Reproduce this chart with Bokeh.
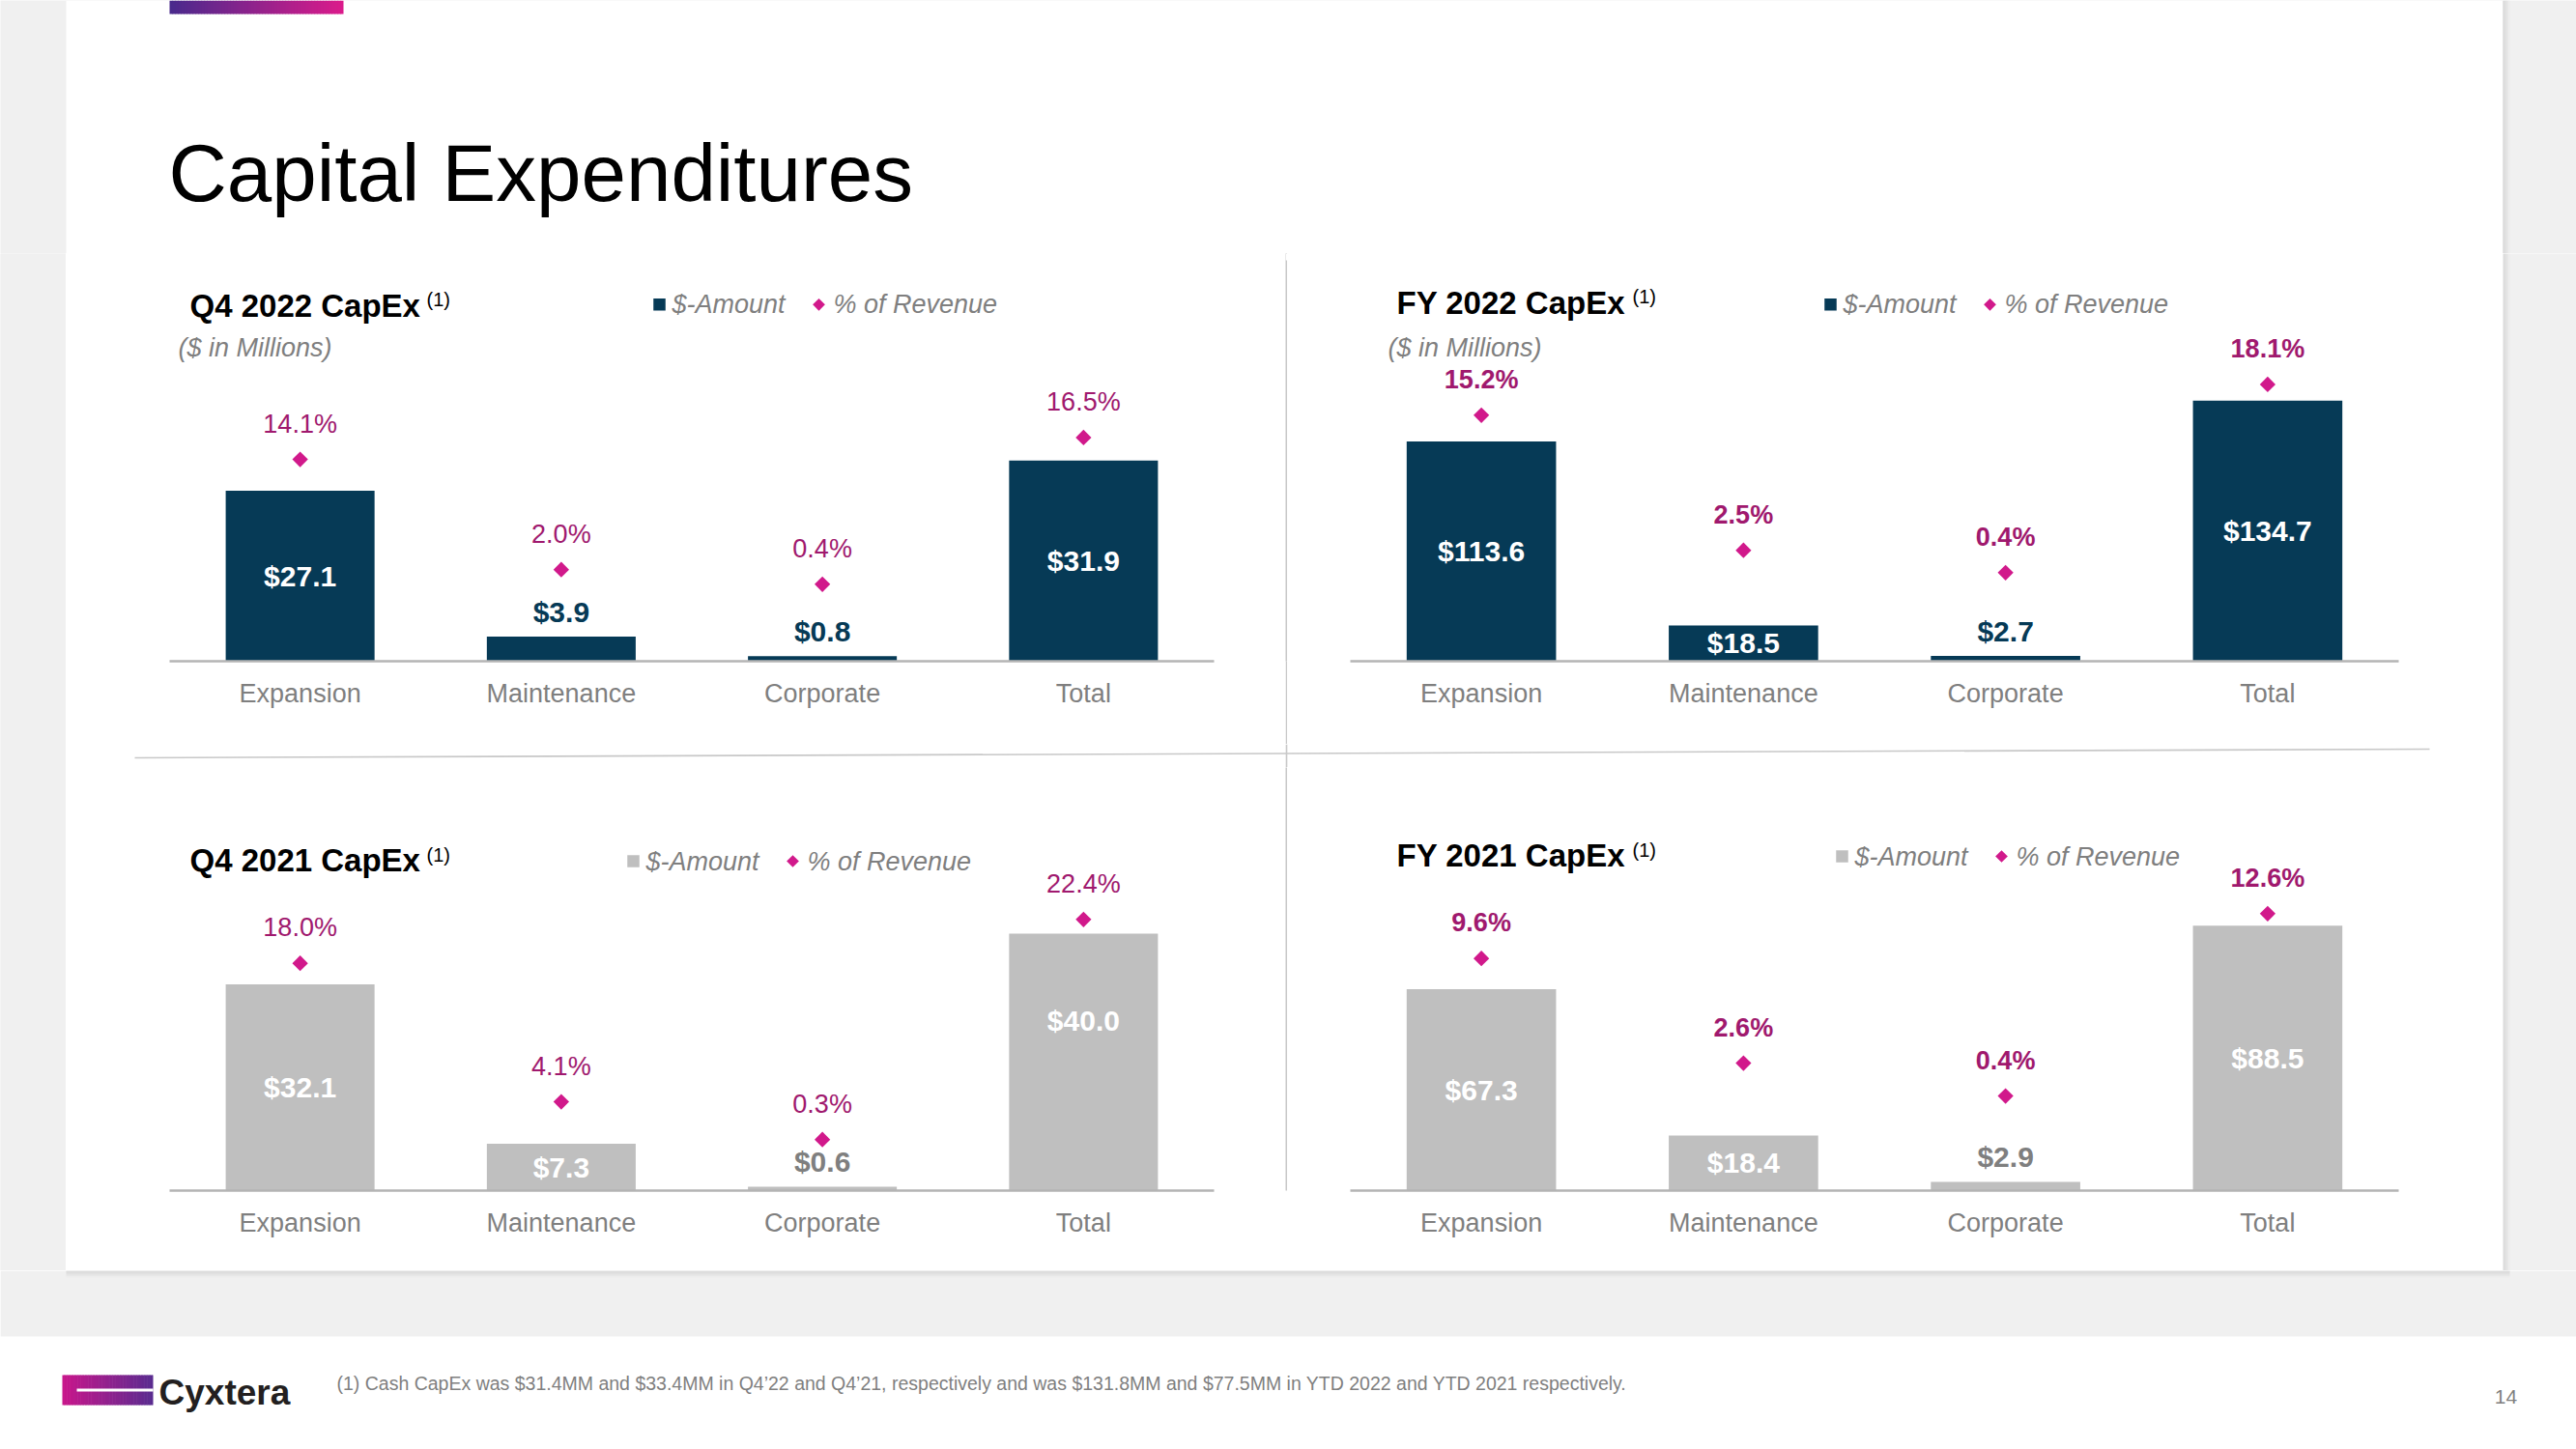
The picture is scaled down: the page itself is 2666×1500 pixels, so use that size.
import math
from bokeh.plotting import figure
from bokeh.models import Range1d, ColumnDataSource, FixedTicker
from bokeh.layouts import row, column
from bokeh.embed import file_html
from bokeh.resources import INLINE
from bokeh.core.properties import value

# ---------------- data ----------------
categories = ["Expansion", "Maintenance", "Corporate", "Total"]

q4_2022_amount = [27.1, 3.9, 0.8, 31.9]
q4_2022_pct = [14.1, 2.0, 0.4, 16.5]
fy_2022_amount = [113.6, 18.5, 2.7, 134.7]
fy_2022_pct = [15.2, 2.5, 0.4, 18.1]
q4_2021_amount = [32.1, 7.3, 0.6, 40.0]
q4_2021_pct = [18.0, 4.1, 0.3, 22.4]
fy_2021_amount = [67.3, 18.4, 2.9, 88.5]
fy_2021_pct = [9.6, 2.6, 0.4, 12.6]

panel_titles = ["Q4 2022 CapEx", "FY 2022 CapEx", "Q4 2021 CapEx", "FY 2021 CapEx"]
footnote_mark = "(1)"
unit_note = "($ in Millions)"
legend_labels = ["$-Amount", "% of Revenue"]
slide_title = "Capital Expenditures"
footnote = ("(1) Cash CapEx was $31.4MM and $33.4MM in Q4\u201922 and Q4\u201921, respectively "
            "and was $131.8MM and $77.5MM in YTD 2022 and YTD 2021 respectively.")
page_number = "14"
company = "Cyxtera"

# ---------------- style ----------------
FONT = value("Liberation Sans")
BG = "#f0f0f0"
NAVY = "#063a56"
GRAYBAR = "#bfbfbf"
MAGENTA = "#d1198b"
PCT_TXT = "#a0196e"
GRAYTXT = "#7f7f7f"
DIVIDER = "#c8c8c8"
DIAMOND_ANGLE = math.pi / 4


def lerp_color(c1, c2, t):
    a = [int(c1[i:i + 2], 16) for i in (1, 3, 5)]
    b = [int(c2[i:i + 2], 16) for i in (1, 3, 5)]
    return "#%02x%02x%02x" % tuple(round(a[k] + (b[k] - a[k]) * t) for k in range(3))


def canvas(x0, x1, y0, y1, bg="white", border=None, mb_bottom=0):
    p = figure(width=x1 - x0, height=y1 - y0,
               x_range=Range1d(x0, x1), y_range=Range1d(y1 - mb_bottom, y0),
               x_axis_location=None, y_axis_location=None,
               toolbar_location=None, output_backend="svg",
               min_border=0, outline_line_color=None,
               background_fill_color=bg, border_fill_color=border or bg)
    p.min_border_bottom = mb_bottom
    p.grid.visible = False
    return p


def hgradient(p, x0, x1, y0, y1, c0, c1, n=60, **kw):
    L, R, C = [], [], []
    for i in range(n):
        L.append(x0 + (x1 - x0) * i / n)
        R.append(min(x1, x0 + (x1 - x0) * (i + 1) / n + 0.6))
        C.append(lerp_color(c0, c1, i / (n - 1)))
    p.quad(left=L, right=R, top=[y0] * n, bottom=[y1] * n, fill_color=C, line_color=None, **kw)


def vshadow(p, x, y0, y1, n=7):
    for i in range(n):
        p.quad(left=[x + i], right=[x + i + 1], top=[y0], bottom=[y1],
               fill_color=lerp_color("#d0d0d0", BG, i / n), line_color=None)


def hshadow(p, y, x0, x1, n=7):
    for i in range(n):
        p.quad(left=[x0], right=[x1], top=[y + i], bottom=[y + i + 1],
               fill_color=lerp_color("#d0d0d0", BG, i / n), line_color=None)


def txt(p, x, y, s, size, color, align="left", style="normal", **kw):
    p.text(x=[x], y=[y], text=[s], text_font=FONT, text_font_size=value(size),
           text_color=color, text_align=align, text_baseline="middle",
           text_font_style=value(style), **kw)


# ---------------- header ----------------
header = canvas(0, 2666, 0, 262, bg=BG)
header.quad(left=[68], right=[2590], top=[0], bottom=[262], fill_color="white", line_color=None)
vshadow(header, 2590, 0, 262)
hgradient(header, 175, 355, 0, 14, "#4a2a8c", "#da1b8b")
txt(header, 174, 178, slide_title, "83.5px", "#000000")

# ---------------- side strips ----------------
left_strip = canvas(0, 68, 262, 1315, bg=BG)
left_strip.quad(left=[0], right=[68], top=[262], bottom=[1315], fill_color=BG, line_color=None)
right_strip = canvas(2590, 2666, 262, 1315, bg=BG)
vshadow(right_strip, 2590, 262, 1315)

# ---------------- dividers ----------------
# frames of plots in a row are aligned with their neighbours, so match the panel borders
vdiv_top = canvas(1330, 1332, 262, 770, bg=DIVIDER, border=DIVIDER, mb_bottom=86)
vdiv_top.quad(left=[1330], right=[1332], top=[262], bottom=[269], fill_color="white", line_color=None)
hdiv = canvas(68, 2590, 770, 794)
hdiv.line(x=[139, 2514], y=[784, 775], line_color=DIVIDER, line_width=1.6)
hdiv.quad(left=[1330.2], right=[1331.8], top=[770], bottom=[794], fill_color=DIVIDER, line_color=None)
vdiv_bot = canvas(1330, 1332, 794, 1315, bg=DIVIDER, border="white", mb_bottom=83)

# ---------------- panels ----------------
label_nudges = {("Q4 2021 CapEx", "Total"): -43}


def panel(title, amounts, pcts, cfg):
    x0, x1, y0, y1 = cfg["box"]
    fx0, fx1, base = cfg["fx0"], cfg["fx1"], cfg["base"]
    n = len(categories)
    p = figure(width=x1 - x0, height=y1 - y0,
               x_range=Range1d(-0.5, n - 0.5),
               y_range=Range1d(0, cfg["amt_max"]),
               x_axis_location="below", y_axis_location=None,
               toolbar_location=None, output_backend="svg",
               min_border_left=fx0 - x0, min_border_right=x1 - fx1,
               min_border_top=0, min_border_bottom=y1 - base,
               outline_line_color=None,
               background_fill_color="white", border_fill_color="white")
    p.grid.visible = False
    p.extra_x_ranges = {"px": Range1d(fx0, fx1)}
    p.extra_y_ranges = {"px": Range1d(base, y0), "pct": Range1d(*cfg["pct_range"])}

    ax = p.xaxis[0]
    ax.ticker = FixedTicker(ticks=list(range(n)))
    ax.major_label_overrides = {i: c for i, c in enumerate(categories)}
    ax.axis_line_color = "#b4b4b4"
    ax.axis_line_width = 2.5
    ax.major_tick_line_color = None
    ax.minor_tick_line_color = None
    ax.major_label_text_font = "Liberation Sans"
    ax.major_label_text_font_size = "27px"
    ax.major_label_text_color = GRAYTXT
    ax.major_label_standoff = 12

    vmax = max(amounts)
    inside = [v >= 0.13 * vmax for v in amounts]
    src = ColumnDataSource(dict(
        x=list(range(n)), cat=categories, top=amounts, pct=pcts,
        pct_label=["%.1f%%" % v for v in pcts],
        val_label=["$%.1f" % v for v in amounts],
        val_y=[v / 2 if ins else v for v, ins in zip(amounts, inside)],
        val_off=[(0 if ins else -26) + label_nudges.get((title, c), 0)
                 for c, ins in zip(categories, inside)],
        val_col=["#ffffff" if ins else cfg["out_color"] for ins in inside],
    ))
    p.vbar(x="x", top="top", width=0.57, source=src, fill_color=cfg["bar_color"], line_color=None)
    p.scatter(x="x", y="pct", marker="square", angle=DIAMOND_ANGLE, size=11.5, source=src,
              fill_color=MAGENTA, line_color=None, y_range_name="pct")
    pstyle = "bold" if cfg["bold_pct"] else "normal"
    p.text(x="x", y="pct", text="pct_label", source=src, y_range_name="pct", y_offset=-37,
           text_font=FONT, text_font_size=value("27px"), text_color=PCT_TXT,
           text_align="center", text_baseline="middle", text_font_style=value(pstyle))
    p.text(x="x", y="val_y", text="val_label", source=src, y_offset="val_off",
           text_font=FONT, text_font_size=value("30px"), text_color="val_col",
           text_align="center", text_baseline="middle", text_font_style=value("bold"))

    kw = dict(x_range_name="px", y_range_name="px")
    tx, ty = cfg["title_xy"]
    txt(p, tx, ty, title, "33px", "#000000", style="bold", **kw)
    txt(p, cfg["sup_x"], ty - 6, footnote_mark, "20px", "#000000", **kw)
    if cfg.get("sub_xy"):
        sx, sy = cfg["sub_xy"]
        txt(p, sx, sy, unit_note, "27px", GRAYTXT, style="italic", **kw)
    lx, ly = cfg["legend_xy"]
    p.scatter(x=[lx], y=[ly], marker="square", size=12.5, fill_color=cfg["bar_color"],
              line_color=None, **kw)
    txt(p, lx + 13, ly, legend_labels[0], "27px", GRAYTXT, style="italic", **kw)
    p.scatter(x=[lx + 165], y=[ly], marker="square", angle=DIAMOND_ANGLE, size=9,
              fill_color=MAGENTA, line_color=None, **kw)
    txt(p, lx + 180, ly, legend_labels[1], "27px", GRAYTXT, style="italic", **kw)
    return p


cfg_tl = dict(box=(68, 1330, 262, 770), fx0=175, fx1=1256, base=685, amt_max=64.8,
              pct_range=(-8.05, 36.7), title_xy=(196, 316), sup_x=441, sub_xy=(184, 360),
              legend_xy=(682, 315), bar_color=NAVY, out_color=NAVY, bold_pct=False)
cfg_tr = dict(box=(1332, 2590, 262, 770), fx0=1397, fx1=2482, base=685, amt_max=210.8,
              pct_range=(-7.93, 30.4), title_xy=(1445, 313), sup_x=1689, sub_xy=(1436, 360),
              legend_xy=(1894, 315), bar_color=NAVY, out_color=NAVY, bold_pct=True)
cfg_bl = dict(box=(68, 1330, 794, 1315), fx0=175, fx1=1256, base=1232, amt_max=65.86,
              pct_range=(-4.82, 37.66), title_xy=(196, 890), sup_x=441, sub_xy=None,
              legend_xy=(655, 891), bar_color=GRAYBAR, out_color=GRAYTXT, bold_pct=False)
cfg_br = dict(box=(1332, 2590, 794, 1315), fx0=1397, fx1=2482, base=1232, amt_max=141.3,
              pct_range=(-5.93, 22.38), title_xy=(1445, 885), sup_x=1689, sub_xy=None,
              legend_xy=(1906, 886), bar_color=GRAYBAR, out_color=GRAYTXT, bold_pct=True)

tl = panel(panel_titles[0], q4_2022_amount, q4_2022_pct, cfg_tl)
tr = panel(panel_titles[1], fy_2022_amount, fy_2022_pct, cfg_tr)
bl = panel(panel_titles[2], q4_2021_amount, q4_2021_pct, cfg_bl)
br = panel(panel_titles[3], fy_2021_amount, fy_2021_pct, cfg_br)

# ---------------- footer ----------------
footer = canvas(0, 2666, 1315, 1500, bg="white")
footer.quad(left=[0], right=[2666], top=[1315], bottom=[1383], fill_color=BG, line_color=None)
hshadow(footer, 1315, 68, 2597)
hgradient(footer, 64, 158, 1423, 1454, "#c8168b", "#5a2c90")
footer.quad(left=[79], right=[158], top=[1437], bottom=[1440], fill_color="white", line_color=None)
txt(footer, 164, 1441, company, "37px", "#231f20", style="bold")
txt(footer, 348, 1431, footnote, "19.5px", GRAYTXT)
txt(footer, 2593, 1445, page_number, "21px", GRAYTXT, align="center")

# ---------------- layout ----------------
mid = column(row(tl, vdiv_top, tr), hdiv, row(bl, vdiv_bot, br))
layout = column(header, row(left_strip, mid, right_strip), footer)

open("out.html", "w").write(file_html(layout, INLINE, title="Capital Expenditures"))
